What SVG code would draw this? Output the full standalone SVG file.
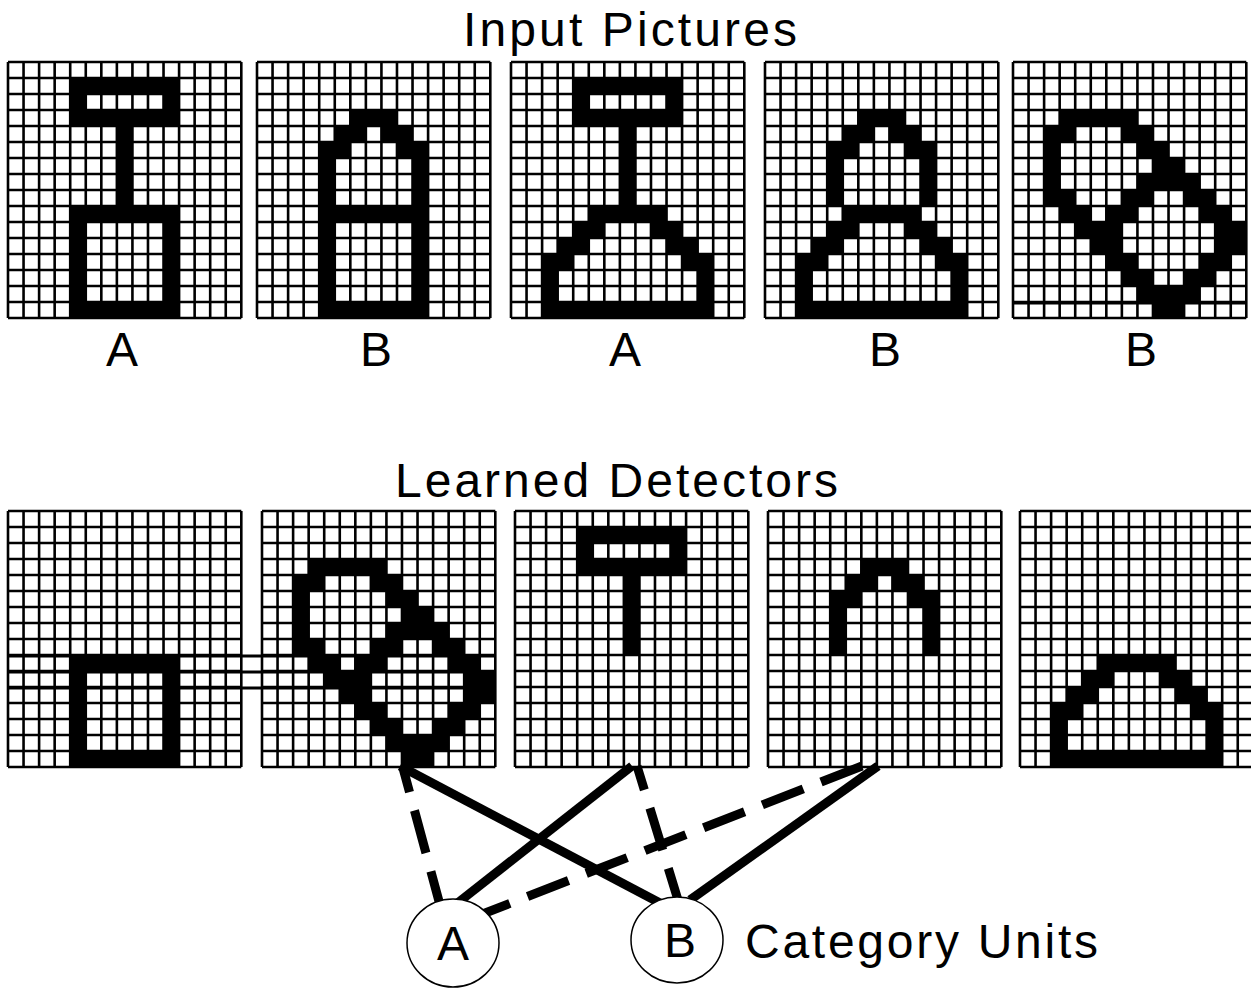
<svg xmlns="http://www.w3.org/2000/svg" xmlns:xlink="http://www.w3.org/1999/xlink" width="1251" height="989" viewBox="0 0 1251 989">
<style>
.t{font-family:"Liberation Sans",Arial,sans-serif;font-size:48px;fill:#000}
.gl{fill:none;stroke:#000;stroke-width:2.6}
.bg{fill:#fff}
.on rect{fill:#000}
.solid{stroke:#000;stroke-width:9;fill:none}
.dash{stroke:#000;stroke-width:9;fill:none;stroke-dasharray:44 19}
.unit{fill:#fff;stroke:#000;stroke-width:1.5}
.sep{stroke:#000;stroke-width:3}
</style>
<defs>
<path id="grid" class="gl" d="M0 0H233.3M0 16H233.3M0 32H233.3M0 48H233.3M0 64H233.3M0 80H233.3M0 96H233.3M0 112H233.3M0 128H233.3M0 144H233.3M0 160H233.3M0 176H233.3M0 192H233.3M0 208H233.3M0 224H233.3M0 240H233.3M0 256H233.3M0 0V256M15.55 0V256M31.11 0V256M46.66 0V256M62.21 0V256M77.77 0V256M93.32 0V256M108.87 0V256M124.43 0V256M139.98 0V256M155.53 0V256M171.09 0V256M186.64 0V256M202.19 0V256M217.75 0V256M233.3 0V256"/>
<g id="tee"><rect x="4" y="1" width="7" height="1"/><rect x="4" y="3" width="7" height="1"/><rect x="4" y="2" width="1" height="1"/><rect x="10" y="2" width="1" height="1"/><rect x="7" y="4" width="1" height="5"/></g>
<g id="box"><rect x="4" y="9" width="7" height="1"/><rect x="4" y="15" width="7" height="1"/><rect x="4" y="10" width="1" height="5"/><rect x="10" y="10" width="1" height="5"/></g>
<g id="arch"><rect x="6" y="3" width="3" height="1"/><rect x="5" y="4" width="2" height="1"/><rect x="8" y="4" width="2" height="1"/><rect x="4" y="5" width="2" height="1"/><rect x="9" y="5" width="2" height="1"/><rect x="4" y="6" width="1" height="3"/><rect x="10" y="6" width="1" height="3"/></g>
<g id="tri"><rect x="5" y="9" width="5" height="1"/><rect x="4" y="10" width="2" height="1"/><rect x="9" y="10" width="2" height="1"/><rect x="3" y="11" width="2" height="1"/><rect x="10" y="11" width="2" height="1"/><rect x="2" y="12" width="2" height="1"/><rect x="11" y="12" width="2" height="1"/><rect x="2" y="13" width="1" height="2"/><rect x="12" y="13" width="1" height="2"/><rect x="2" y="15" width="11" height="1"/></g>
<g id="diag"><rect x="3" y="3" width="5" height="1"/><rect x="2" y="4" width="2" height="1"/><rect x="7" y="4" width="2" height="1"/><rect x="2" y="5" width="1" height="3"/><rect x="8" y="5" width="2" height="1"/><rect x="9" y="6" width="2" height="1"/><rect x="8" y="7" width="4" height="1"/><rect x="2" y="8" width="2" height="1"/><rect x="7" y="8" width="2" height="1"/><rect x="11" y="8" width="2" height="1"/><rect x="3" y="9" width="2" height="1"/><rect x="6" y="9" width="2" height="1"/><rect x="12" y="9" width="2" height="1"/><rect x="4" y="10" width="3" height="1"/><rect x="13" y="10" width="2" height="2"/><rect x="5" y="11" width="2" height="1"/><rect x="6" y="12" width="2" height="1"/><rect x="12" y="12" width="2" height="1"/><rect x="7" y="13" width="2" height="1"/><rect x="11" y="13" width="2" height="1"/><rect x="8" y="14" width="4" height="1"/><rect x="9" y="15" width="2" height="1"/></g>
</defs>
<rect width="1251" height="989" fill="#fff"/>
<text class="t" x="463" y="46" textLength="334" lengthAdjust="spacing">Input Pictures</text>
<g id="input-1" transform="translate(8,62)"><rect class="bg" width="233.3" height="256"/><use xlink:href="#grid"/><g class="on" transform="scale(15.553,16)"><use xlink:href="#tee"/><use xlink:href="#box"/></g></g>
<g id="input-2" transform="translate(257,62)"><rect class="bg" width="233.3" height="256"/><use xlink:href="#grid"/><g class="on" transform="scale(15.553,16)"><use xlink:href="#arch"/><use xlink:href="#box"/></g></g>
<g id="input-3" transform="translate(511,62)"><rect class="bg" width="233.3" height="256"/><use xlink:href="#grid"/><g class="on" transform="scale(15.553,16)"><use xlink:href="#tee"/><use xlink:href="#tri"/></g></g>
<g id="input-4" transform="translate(765,62)"><rect class="bg" width="233.3" height="256"/><use xlink:href="#grid"/><g class="on" transform="scale(15.553,16)"><use xlink:href="#arch"/><use xlink:href="#tri"/></g></g>
<g id="input-5" transform="translate(1013,62)"><rect class="bg" width="233.3" height="256"/><use xlink:href="#grid"/><g class="on" transform="scale(15.553,16)"><use xlink:href="#diag"/></g><line class="sep" x1="0" y1="241" x2="234" y2="241"/></g>
<text class="t" x="122" y="366" text-anchor="middle">A</text>
<text class="t" x="376" y="366" text-anchor="middle">B</text>
<text class="t" x="625" y="366" text-anchor="middle">A</text>
<text class="t" x="885" y="366" text-anchor="middle">B</text>
<text class="t" x="1141" y="366" text-anchor="middle">B</text>
<text class="t" x="395" y="497" textLength="443" lengthAdjust="spacing">Learned Detectors</text>
<g id="detector-1" transform="translate(8,511)"><rect class="bg" width="233.3" height="256"/><use xlink:href="#grid"/><g class="on" transform="scale(15.553,16)"><use xlink:href="#box"/></g></g>
<g id="detector-2" transform="translate(262,511)"><rect class="bg" width="233.3" height="256"/><use xlink:href="#grid"/><g class="on" transform="scale(15.553,16)"><use xlink:href="#diag"/></g></g>
<g id="detector-seams"><line x1="8" y1="656" x2="496" y2="656" class="sep" stroke-width="2.5"/><line x1="8" y1="672" x2="496" y2="672" class="sep" stroke-width="2.5"/><line x1="8" y1="688" x2="496" y2="688" class="sep" stroke-width="2.5"/></g>
<g id="detector-3" transform="translate(515,511)"><rect class="bg" width="233.3" height="256"/><use xlink:href="#grid"/><g class="on" transform="scale(15.553,16)"><use xlink:href="#tee"/></g></g>
<g id="detector-4" transform="translate(768,511)"><rect class="bg" width="233.3" height="256"/><use xlink:href="#grid"/><g class="on" transform="scale(15.553,16)"><use xlink:href="#arch"/></g></g>
<g id="detector-5" transform="translate(1020,511)"><rect class="bg" width="233.3" height="256"/><use xlink:href="#grid"/><g class="on" transform="scale(15.553,16)"><use xlink:href="#tri"/></g></g>
<g id="connectors">
<line class="dash" x1="403" y1="768" x2="440" y2="905" stroke-dashoffset="19"/>
<line class="solid" x1="400" y1="766" x2="660" y2="903"/>
<line class="solid" x1="632" y1="766" x2="455" y2="905"/>
<line class="dash" x1="637" y1="766" x2="678" y2="900" stroke-dashoffset="19"/>
<line class="dash" x1="862" y1="766" x2="480" y2="915"/>
<line class="solid" x1="878" y1="766" x2="690" y2="900"/>
</g>
<g id="unit-A"><ellipse class="unit" cx="453" cy="943" rx="46" ry="44"/><text class="t" x="453" y="960" text-anchor="middle">A</text></g>
<g id="unit-B"><ellipse class="unit" cx="677" cy="940" rx="46" ry="43"/><text class="t" x="680" y="957" text-anchor="middle">B</text></g>
<text class="t" x="745" y="958" textLength="353" lengthAdjust="spacing">Category Units</text>
</svg>
